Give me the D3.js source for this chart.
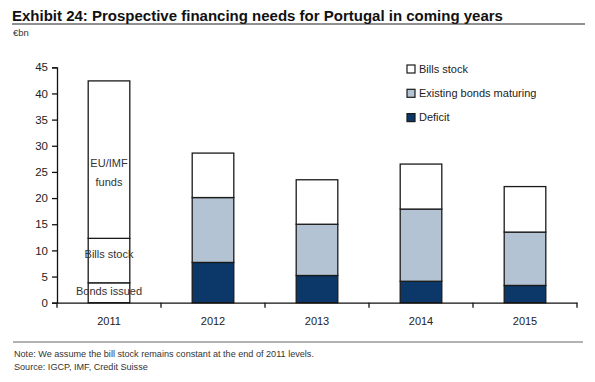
<!DOCTYPE html>
<html>
<head>
<meta charset="utf-8">
<script src="https://cdn.jsdelivr.net/npm/d3@7"></script>
<style>
  body { margin: 0; background: #fff; }
  svg { font-family: "Liberation Sans", Arial, sans-serif; }
</style>
</head>
<body>
<div class="chartContainer"></div>
<script>
// data (EUR bn)
var years = ['2011', '2012', '2013', '2014', '2015']
var deficit = [0, 7.7, 5.2, 4.1, 3.3]
var bondsMaturing = [0, 12.4, 9.8, 13.8, 10.2]
var billsStock = [0, 8.5, 8.5, 8.6, 8.7]
// 2011 is split differently
var bondsIssued2011 = 3.8
var bills2011 = 8.5
var euImf2011 = 30.1
var yTicks = [0, 5, 10, 15, 20, 25, 30, 35, 40, 45]

var width = 595, height = 382
var navy = '#0b3868', grey = '#b3c3d3'

var svg = d3.select('.chartContainer')
    .append('svg')
    .attr('width', width)
    .attr('height', height)

// title + rule
svg.append('text')
    .attr('x', 12).attr('y', 20.5)
    .attr('font-size', 15).attr('font-weight', 'bold')
    .attr('fill', '#111')
    .text('Exhibit 24: Prospective financing needs for Portugal in coming years')
svg.append('line')
    .attr('x1', 12).attr('x2', 585).attr('y1', 24).attr('y2', 24)
    .attr('stroke', '#222').attr('stroke-width', 1)
svg.append('text')
    .attr('x', 13).attr('y', 36)
    .attr('font-size', 9.5).attr('fill', '#333')
    .text('€bn')

var x = d3.scaleBand()
    .domain(years)
    .range([57, 577])
    .paddingInner(0.6)
    .paddingOuter(0.3)

var y = d3.scaleLinear()
    .domain([0, 45])
    .range([302.7, 67.3])

// build stacked rows
var rows = years.map(function (yr, i) {
    if (i === 0) {
        return { year: yr, parts: [
            { v: bondsIssued2011, fill: '#fff' },
            { v: bills2011, fill: '#fff' },
            { v: euImf2011, fill: '#fff' }
        ] }
    }
    return { year: yr, parts: [
        { v: deficit[i], fill: navy },
        { v: bondsMaturing[i], fill: grey },
        { v: billsStock[i], fill: '#fff' }
    ] }
})

var segs = []
rows.forEach(function (r) {
    var base = 0
    r.parts.forEach(function (p) {
        segs.push({ year: r.year, y0: base, y1: base + p.v, fill: p.fill })
        base += p.v
    })
})

svg.append('g')
    .classed('bars', true)
    .selectAll('rect')
    .data(segs)
    .enter()
    .append('rect')
    .attr('x', function (d) { return x(d.year) })
    .attr('width', x.bandwidth())
    .attr('y', function (d) { return y(d.y1) })
    .attr('height', function (d) { return y(d.y0) - y(d.y1) })
    .attr('fill', function (d) { return d.fill })
    .attr('stroke', '#1a1a1a')
    .attr('stroke-width', 1.3)

// y axis
var yAxis = svg.append('g')
    .attr('transform', 'translate(57,0)')
    .call(d3.axisLeft(y).tickValues(yTicks).tickSize(5).tickPadding(4))
yAxis.select('.domain').attr('stroke', '#111').attr('stroke-width', 1.3)
yAxis.selectAll('.tick line').attr('stroke', '#111').attr('stroke-width', 1.3)
yAxis.selectAll('text').attr('font-size', 11.5).attr('fill', '#222')
    .attr('font-family', '"Liberation Sans", Arial, sans-serif')

// x axis, ticks between categories
var xAxis = svg.append('g')
    .attr('transform', 'translate(0,' + y(0) + ')')
    .call(d3.axisBottom(x).tickSize(0).tickPadding(15))
xAxis.select('.domain').attr('stroke', '#111').attr('stroke-width', 1.3)
xAxis.selectAll('text').attr('font-size', 11).attr('fill', '#222')
    .attr('font-family', '"Liberation Sans", Arial, sans-serif')

var step = x.step()
var edges = d3.range(years.length + 1).map(function (i) { return 57 + i * step })
xAxis.selectAll('line.sep')
    .data(edges)
    .enter()
    .append('line')
    .classed('sep', true)
    .attr('x1', function (d) { return d }).attr('x2', function (d) { return d })
    .attr('y1', 0).attr('y2', 5)
    .attr('stroke', '#111').attr('stroke-width', 1.3)

// labels inside 2011 bar
var cx = x('2011') + x.bandwidth() / 2
var inLabels = [
    { t: 'EU/IMF', v: 26.6 },
    { t: 'funds', v: 23.1 },
    { t: 'Bills stock', v: 9.2 },
    { t: 'Bonds issued', v: 2.2 }
]
svg.append('g')
    .selectAll('text')
    .data(inLabels)
    .enter()
    .append('text')
    .attr('x', cx)
    .attr('y', function (d) { return y(d.v) })
    .attr('dy', '0.35em')
    .attr('text-anchor', 'middle')
    .attr('font-size', 11)
    .attr('fill', '#333')
    .text(function (d) { return d.t })

// legend
var legend = [
    { t: 'Bills stock', fill: '#fff' },
    { t: 'Existing bonds maturing', fill: grey },
    { t: 'Deficit', fill: navy }
]
var lg = svg.append('g')
    .selectAll('g')
    .data(legend)
    .enter()
    .append('g')
    .attr('transform', function (d, i) { return 'translate(407,' + (69 + i * 24.3) + ')' })
lg.append('rect')
    .attr('x', 0).attr('y', -4).attr('width', 8).attr('height', 8)
    .attr('fill', function (d) { return d.fill })
    .attr('stroke', '#1a1a1a').attr('stroke-width', 1.2)
lg.append('text')
    .attr('x', 12).attr('y', 0).attr('dy', '0.35em')
    .attr('font-size', 11).attr('fill', '#222')
    .text(function (d) { return d.t })

// footer
svg.append('line')
    .attr('x1', 13).attr('x2', 583).attr('y1', 342).attr('y2', 342)
    .attr('stroke', '#999').attr('stroke-width', 1.3)
svg.append('text')
    .attr('x', 14).attr('y', 356.5)
    .attr('font-size', 9.1).attr('fill', '#333')
    .text('Note: We assume the bill stock remains constant at the end of 2011 levels.')
svg.append('text')
    .attr('x', 14).attr('y', 370)
    .attr('font-size', 9.1).attr('fill', '#333')
    .text('Source: IGCP, IMF, Credit Suisse')
</script>
</body>
</html>
